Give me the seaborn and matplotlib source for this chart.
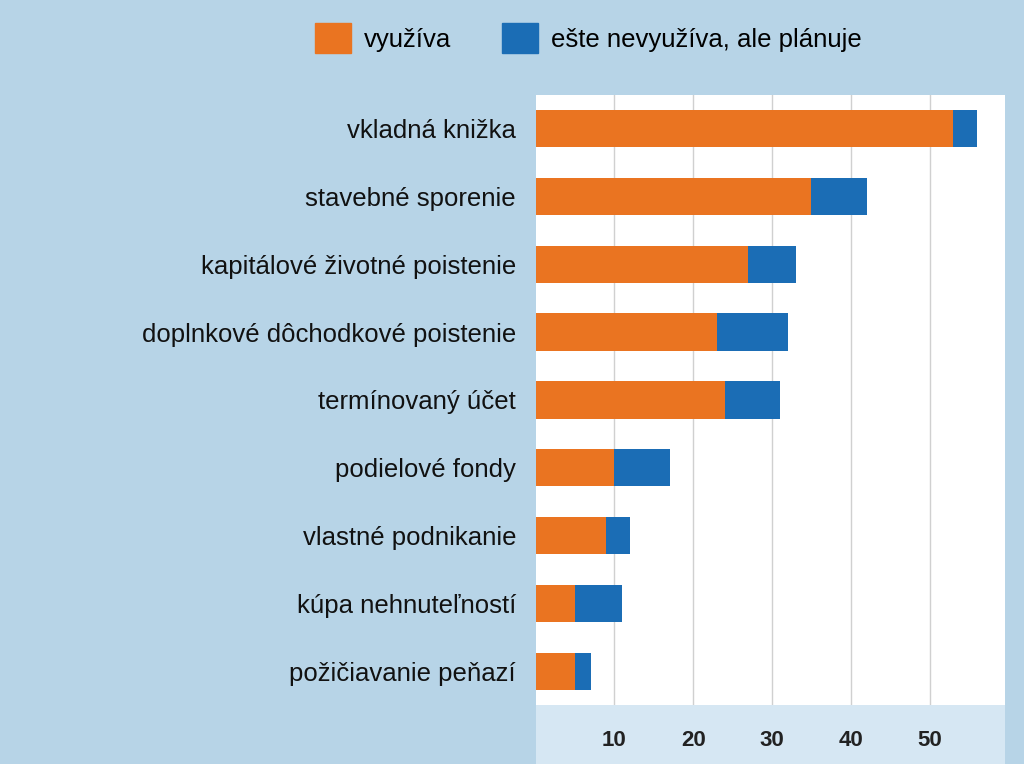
import matplotlib
matplotlib.use("Agg")
import matplotlib.pyplot as plt
import seaborn as sns
import pandas as pd
from matplotlib.patches import Patch, Rectangle

plt.rcParams["font.family"] = "Liberation Sans"

categories = ["vkladná knižka", "stavebné sporenie", "kapitálové životné poistenie",
              "doplnkové dôchodkové poistenie", "termínovaný účet", "podielové fondy",
              "vlastné podnikanie", "kúpa nehnuteľností", "požičiavanie peňazí"]
vyuziva = [53, 35, 27, 23, 24, 10, 9, 5, 5]
planuje = [3, 7, 6, 9, 7, 7, 3, 6, 2]
ticks = [10, 20, 30, 40, 50]

df = pd.DataFrame({"cat": categories, "used": vyuziva,
                   "total": [a + b for a, b in zip(vyuziva, planuje)]})

bg = "#b7d4e7"
orange = "#ea7421"
blue = "#1b6db5"
fig = plt.figure(figsize=(10.24, 7.64), dpi=100, facecolor=bg)
ax = fig.add_axes([0.523, 0.077, 0.458, 0.799])
ax.set_facecolor("white")
strip = Rectangle((0.523, 0.0), 0.458, 0.077, transform=fig.transFigure,
                  facecolor="#d6e7f3", edgecolor="none", zorder=-5)
fig.add_artist(strip)

sns.barplot(data=df, y="cat", x="total", color=blue, width=0.55, ax=ax, zorder=3,
            saturation=1)
sns.barplot(data=df, y="cat", x="used", color=orange, width=0.55, ax=ax, zorder=4,
            saturation=1)

ax.set_xlim(0, 59.5)
ax.set_xticks(ticks)
ax.set_xticklabels([str(t) for t in ticks], fontsize=16, fontweight="bold", color="#222222")
ax.tick_params(axis="x", length=0, pad=18)
ax.tick_params(axis="y", length=0, labelsize=18.5, pad=14, labelcolor="#111111")
ax.grid(axis="x", color="#d0d0d0", linewidth=1, zorder=0)
ax.set_axisbelow(True)
ax.set_xlabel("")
ax.set_ylabel("")
for s in ax.spines.values():
    s.set_visible(False)

handles = [Patch(color=orange, label="využíva"),
           Patch(color=blue, label="ešte nevyužíva, ale plánuje")]
fig.legend(handles=handles, loc="upper left", bbox_to_anchor=(0.285, 1.0), ncol=2,
           frameon=False, fontsize=18.5, handlelength=1.4, handleheight=1.4,
           columnspacing=2.0, handletextpad=0.5)

fig.savefig("out.png", dpi=100, facecolor=bg)
